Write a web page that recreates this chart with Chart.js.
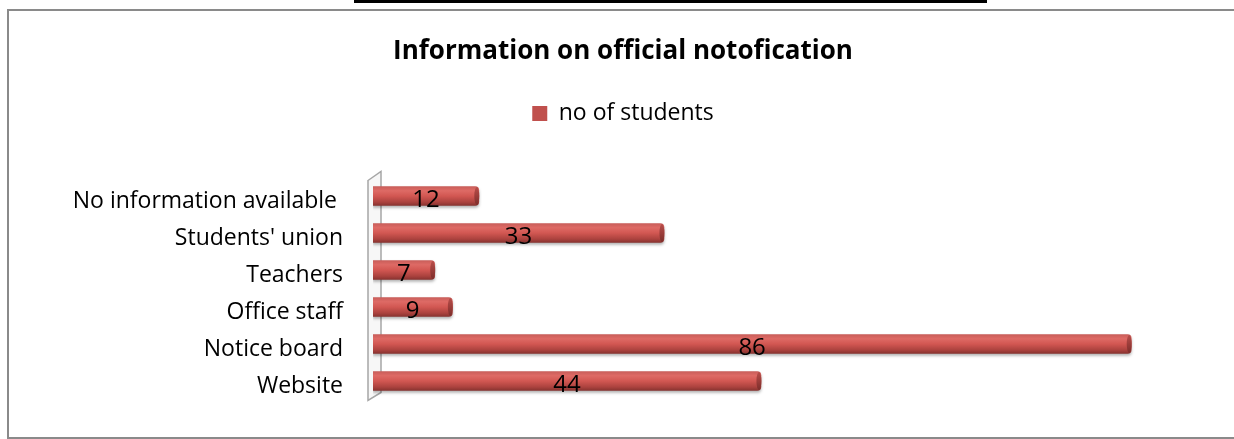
<!DOCTYPE html>
<html lang="en">
<head>
  <meta charset="UTF-8">
  <title>Information on official notofication</title>
  <script src="https://cdn.jsdelivr.net/npm/chart.js"></script>
  <style>
    html, body {
      margin: 0;
      background: #fff;
      overflow: hidden;
    }
    .topbar {
      position: absolute;
      left: 354px;
      top: 0;
      width: 633px;
      height: 3px;
      background: #000;
    }
    .frame {
      position: absolute;
      left: 7px;
      top: 9px;
      width: 1227px;
      height: 430px;
      box-sizing: border-box;
      border: 2px solid #8a8a8a;
      border-right: none;
    }
    #chart {
      position: absolute;
      left: 9px;
      top: 11px;
    }
  </style>
</head>
<body>
  <div class="topbar"></div>
  <div class="frame"></div>
  <canvas id="chart" width="1228" height="426"></canvas>

  <script>
    const categories = ['No information available ', "Students' union", 'Teachers', 'Office staff', 'Notice board', 'Website'];
    const students = [12, 33, 7, 9, 86, 44];
    const seriesName = 'no of students';
    const barColor = '#c0504d';

    // cylinder-ish shading, one gradient per bar
    function barGradient(c) {
      const chart = c.chart;
      const s = chart.scales.y;
      if (!chart.chartArea || !s || c.dataIndex === undefined) return barColor;
      const y = s.getPixelForValue(c.dataIndex);
      const g = chart.ctx.createLinearGradient(0, y - 9.5, 0, y + 9.5);
      g.addColorStop(0, '#c95e5a');
      g.addColorStop(0.22, '#de6a65');
      g.addColorStop(0.5, '#d25752');
      g.addColorStop(0.82, '#ab423e');
      g.addColorStop(1, '#883330');
      return g;
    }

    const wallPlugin = {
      id: 'wall',
      beforeDatasetsDraw(chart) {
        const a = chart.chartArea;
        const ctx = chart.ctx;
        ctx.save();
        ctx.beginPath();
        ctx.moveTo(a.left - 5, a.top + 3);
        ctx.lineTo(a.left + 8, a.top - 6);
        ctx.lineTo(a.left + 8, a.bottom - 7);
        ctx.lineTo(a.left - 5, a.bottom + 1);
        ctx.closePath();
        ctx.fillStyle = '#f7f7f7';
        ctx.fill();
        ctx.strokeStyle = '#a6a6a6';
        ctx.lineWidth = 1.5;
        ctx.stroke();
        ctx.restore();
      },
      beforeDatasetDraw(chart) {
        const ctx = chart.ctx;
        ctx.save();
        ctx.shadowColor = 'rgba(0,0,0,0.3)';
        ctx.shadowBlur = 3;
        ctx.shadowOffsetY = 2;
      },
      afterDatasetDraw(chart) {
        chart.ctx.restore();
      },
      afterDatasetsDraw(chart) {
        const ctx = chart.ctx;
        const meta = chart.getDatasetMeta(0);
        ctx.save();
        meta.data.forEach((bar, i) => {
          // end cap
          const h = bar.height / 2;
          const g = ctx.createLinearGradient(0, bar.y - h, 0, bar.y + h);
          g.addColorStop(0, '#b84f4b');
          g.addColorStop(0.5, '#9c3d3a');
          g.addColorStop(1, '#7a2d2a');
          ctx.fillStyle = g;
          ctx.beginPath();
          ctx.ellipse(bar.x - 2, bar.y, 2.5, h - 0.5, 0, 0, Math.PI * 2);
          ctx.fill();
          // value label
          ctx.fillStyle = '#000';
          ctx.font = '24px "Open Sans"';
          ctx.textAlign = 'center';
          ctx.textBaseline = 'middle';
          ctx.fillText(students[i], (bar.x + bar.base) / 2, bar.y + 4);
        });
        ctx.restore();
      }
    };

    new Chart(document.getElementById('chart'), {
      type: 'bar',
      data: {
        labels: categories,
        datasets: [{
          label: seriesName,
          data: students,
          backgroundColor: barGradient,
          borderWidth: 0,
          borderRadius: 4,
          borderSkipped: 'start',
          barThickness: 19
        }]
      },
      options: {
        indexAxis: 'y',
        responsive: false,
        animation: false,
        events: [],
        layout: { padding: { left: 0, right: 0, top: 0, bottom: 37.5 } },
        scales: {
          x: {
            position: 'top',
            min: 0,
            max: 98,
            ticks: { display: false },
            grid: { display: false },
            border: { display: false },
            afterFit: (s) => { s.height = 42.5; }
          },
          y: {
            grid: { display: false },
            border: { display: false },
            ticks: {
              color: '#000',
              padding: 22,
              labelOffset: 5,
              font: { family: 'Open Sans', size: 23 }
            },
            afterFit: (s) => { s.width = 364; }
          }
        },
        plugins: {
          title: {
            display: true,
            text: 'Information on official notofication',
            color: '#000',
            font: { family: 'Open Sans', size: 26, weight: 'bold', lineHeight: 1.2 },
            padding: { top: 24.9, bottom: 24.9 }
          },
          legend: {
            display: true,
            labels: {
              color: '#000',
              boxWidth: 15,
              boxHeight: 15,
              padding: 10,
              font: { family: 'Open Sans', size: 23 },
              generateLabels: () => [{
                text: seriesName,
                fillStyle: barColor,
                strokeStyle: barColor,
                lineWidth: 0
              }]
            }
          },
          tooltip: { enabled: false }
        }
      },
      plugins: [wallPlugin]
    });
  </script>
</body>
</html>
